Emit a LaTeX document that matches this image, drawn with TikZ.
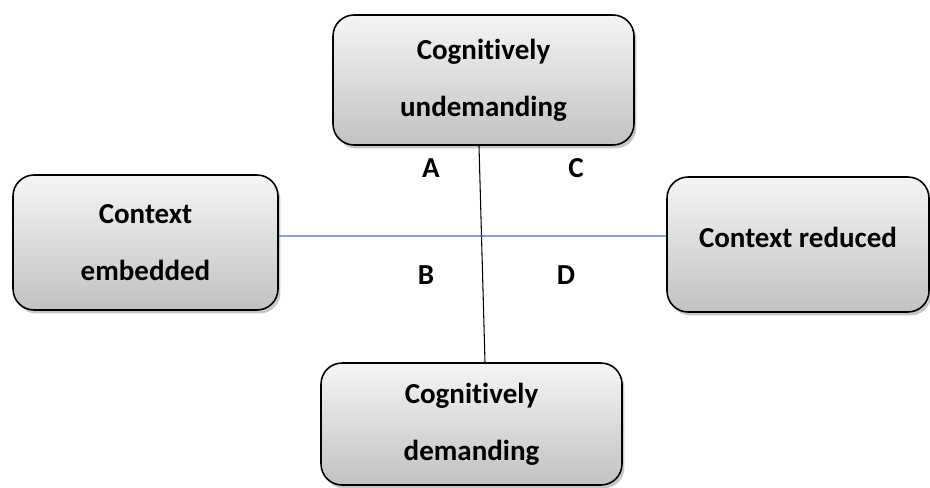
\documentclass[tikz,border=0pt]{standalone}
\usepackage{fontspec}
\setmainfont{Carlito}[Ligatures=NoCommon]
\usetikzlibrary{shadows}
\usetikzlibrary{calc}
\definecolor{axisblue}{RGB}{68,114,196}
\tikzset{box/.style={draw=black,line width=0.9pt,rounded corners=0.42cm,top color=white!96!black,bottom color=black!24,align=center,font=\bfseries\fontsize{16.5}{32.5}\selectfont,drop shadow={shadow xshift=0.05cm,shadow yshift=-0.07cm,opacity=0.45}}}
\tikzset{quad/.style={font=\bfseries\fontsize{16.5}{20}\selectfont}}
\tikzset{axis/.style={line width=0.6pt}}
\begin{document}
\begin{tikzpicture}[x=0.02cm,y=-0.02cm]
        \useasboundingbox (0,0) rectangle (930,487);
        \node[box,minimum width=6.02cm,minimum height=2.6cm] (undem) at (483.5,80) {Cognitively\\undemanding};
        \node[box,minimum width=5.3cm,minimum height=2.7cm] (embed) at (145.5,242.5) {Context\\embedded};
        \node[box,minimum width=5.24cm,minimum height=2.7cm] (reduc) at (798,244.5) {Context reduced\\[-24pt]\mbox{}};
        \node[box,minimum width=6.02cm,minimum height=2.44cm] (dem) at (471.5,424) {Cognitively\\demanding};
        \node[quad] (qa) at (431,168) {A};
        \node[quad] (qc) at (576,168) {C};
        \node[quad] (qb) at (426,275) {B};
        \node[quad] (qd) at (566,275) {D};
        \draw[axis,black] ([xshift=-0.09cm]undem.south) -- ([xshift=0.27cm]dem.north);
        \draw[axis,axisblue] ([yshift=0.13cm]embed.east) -- ([yshift=0.17cm]reduc.west);
      \end{tikzpicture}
\end{document}
